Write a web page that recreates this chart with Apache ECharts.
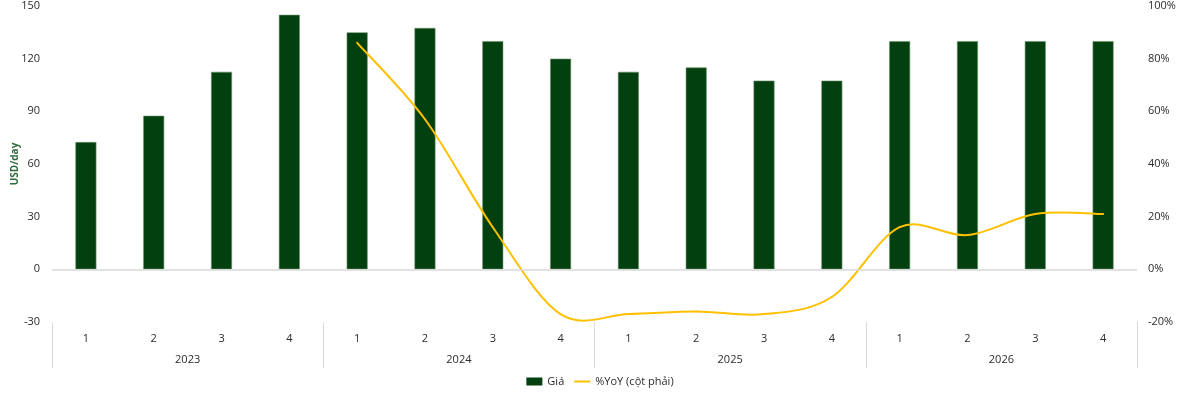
<!DOCTYPE html>
<html>
<head>
<meta charset="utf-8">
<script src="https://cdn.jsdelivr.net/npm/echarts@6/dist/echarts.min.js"></script>
<style>
html, body { margin: 0; padding: 0; background: #fff; }
#main { width: 1200px; height: 398px; }
</style>
</head>
<body>
<div id="main"></div>
<script>
var dom = document.getElementById('main');
var myChart = echarts.init(dom);

var quarters = ['1', '2', '3', '4', '1', '2', '3', '4', '1', '2', '3', '4', '1', '2', '3', '4'];
var years = ['2023', '2024', '2025', '2026'];
var gia = [72.5, 87.5, 112.5, 145, 135, 137.5, 130, 120, 112.5, 115, 107.5, 107.5, 130, 130, 130, 130];
var yoy = [null, null, null, null, 86, 57, 16, -17, -17, -16, -17, -10.5, 16, 13, 21, 21];

var txt = '#2b2b2b';
var font = 'Open Sans';

// YoY points as [quarter index, value]
var yoyData = [];
yoy.forEach(function (v, i) {
    if (v !== null) yoyData.push([i, v]);
});

// smoothed line like a spreadsheet chart (Catmull-Rom, 1/6), one segment per point
function renderYoy(params, api) {
    var i = params.dataIndex;
    if (i >= yoyData.length - 1) return null;
    var pt = function (k) {
        k = Math.max(0, Math.min(yoyData.length - 1, k));
        return api.coord(yoyData[k]);
    };
    var p0 = pt(i - 1), p1 = pt(i), p2 = pt(i + 1), p3 = pt(i + 2);
    return {
        type: 'bezierCurve',
        shape: {
            x1: p1[0], y1: p1[1],
            x2: p2[0], y2: p2[1],
            cpx1: p1[0] + (p2[0] - p0[0]) / 6,
            cpy1: p1[1] + (p2[1] - p0[1]) / 6,
            cpx2: p2[0] - (p3[0] - p1[0]) / 6,
            cpy2: p2[1] - (p3[1] - p1[1]) / 6
        },
        style: { stroke: '#ffc000', lineWidth: 2, fill: null, lineCap: 'round' }
    };
}

option = {
    animation: false,
    textStyle: { fontFamily: font },
    grid: { left: 52, right: 63, top: 6, bottom: 76, outerBoundsMode: 'none', containLabel: false },
    legend: {
        bottom: 6,
        left: 'center',
        itemGap: 10,
        itemWidth: 16,
        itemHeight: 8,
        textStyle: { color: txt, fontSize: 11, fontFamily: font },
        data: [
            { name: 'Giá', icon: 'rect', itemStyle: { borderWidth: 0 } },
            { name: '%YoY (cột phải)', icon: 'path://M0,0 L16,0 L16,2 L0,2 Z' }
        ]
    },
    xAxis: [{
        type: 'category',
        data: quarters,
        position: 'bottom',
        offset: 0,
        axisLine: { show: false, onZero: false },
        axisTick: { show: false },
        axisLabel: { color: txt, fontSize: 11, margin: 11, interval: 0 }
    }, {
        type: 'category',
        data: years,
        position: 'bottom',
        offset: 0,
        axisLine: { show: false, onZero: false },
        axisTick: { show: true, length: 46, lineStyle: { color: '#d9d9d9', width: 1 } },
        axisLabel: { color: txt, fontSize: 11, margin: 32 }
    }],
    yAxis: [{
        type: 'value',
        min: -30,
        max: 150,
        interval: 30,
        name: 'USD/day',
        nameLocation: 'middle',
        nameGap: 32,
        nameMoveOverlap: false,
        nameRotate: 90,
        nameTextStyle: { color: '#2f6a3a', fontSize: 10, fontWeight: 'bold' },
        axisLine: { show: false },
        axisTick: { show: false },
        splitLine: { show: false },
        axisLabel: { color: txt, fontSize: 11, margin: 12 }
    }, {
        type: 'value',
        min: -20,
        max: 100,
        interval: 20,
        position: 'right',
        axisLine: { show: false },
        axisTick: { show: false },
        splitLine: { show: false },
        axisLabel: { color: txt, fontSize: 11, margin: 11, formatter: '{value}%' }
    }],
    series: [{
        name: 'Giá',
        type: 'bar',
        xAxisIndex: 0,
        yAxisIndex: 0,
        barWidth: 21,
        data: gia,
        itemStyle: { color: '#03400f', borderColor: '#6f956f', borderWidth: 0.6 },
        markLine: {
            silent: true,
            symbol: 'none',
            label: { show: false },
            lineStyle: { color: '#d9d9d9', type: 'solid', width: 1.5 },
            data: [{ yAxis: 0 }]
        }
    }, {
        name: '%YoY (cột phải)',
        type: 'custom',
        xAxisIndex: 0,
        yAxisIndex: 1,
        data: yoyData,
        encode: { x: 0, y: 1 },
        renderItem: renderYoy,
        itemStyle: { color: '#ffc000' },
        z: 3
    }]
};

if (option && typeof option === 'object') {
    myChart.setOption(option, true);
}
</script>
</body>
</html>
